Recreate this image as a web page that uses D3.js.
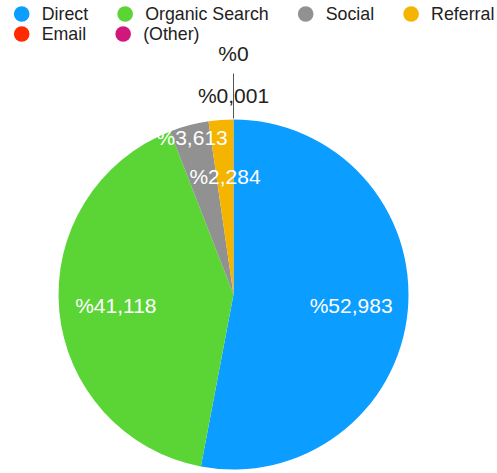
<!DOCTYPE html>
<html>
<head>
<meta charset="utf-8">
<script src="https://cdn.jsdelivr.net/npm/d3@7"></script>
<style>
  html, body { margin: 0; padding: 0; background: #fff; }
  svg { display: block; }
  text { font-family: Arial, "Liberation Sans", Helvetica, sans-serif; }
</style>
</head>
<body>
<svg id="chart" width="497" height="473"></svg>
<script>
// ---- data ----
const categories = ["Direct", "Organic Search", "Social", "Referral", "Email", "(Other)"];
const shares = [52.983, 41.118, 3.613, 2.284, 0.001, 0];
const labels = ["%52,983", "%41,118", "%3,613", "%2,284", "%0,001", "%0"];
const colors = ["#0b9dff", "#5bd535", "#919191", "#f5b400", "#ff2a00", "#d0187c"];

// ---- layout ----
const W = 497, H = 473;
const cx = 233.5, cy = 294.5, R = 175;
const svg = d3.select("#chart");

const color = d3.scaleOrdinal().domain(categories).range(colors);

const data = categories.map((c, i) => ({ cat: c, value: shares[i], label: labels[i] }));

const pie = d3.pie().sort(null).value(d => d.value);
const arcs = pie(data);
const arc = d3.arc().innerRadius(0).outerRadius(R);

const g = svg.append("g").attr("transform", `translate(${cx},${cy})`);

g.selectAll("path.slice")
  .data(arcs)
  .join("path")
  .attr("class", "slice")
  .attr("d", arc)
  .attr("fill", d => color(d.data.cat));

// inside labels
const inside = arcs.filter(d => d.data.value >= 1);
g.selectAll("text.in")
  .data(inside)
  .join("text")
  .attr("class", "in")
  .attr("transform", (d, i) => {
    const k = d.data.cat === "Social" ? 0.93 : 0.675;
    const c = d3.arc().innerRadius(R * k).outerRadius(R * k).centroid(d);
    return `translate(${c[0]},${c[1]})`;
  })
  .attr("text-anchor", "middle")
  .attr("dy", "0.36em")
  .attr("fill", "#fff")
  .attr("font-size", 21)
  .text(d => d.data.label);

// outside labels with leader line
const outside = arcs.filter(d => d.data.value < 1);
const outerOffsets = { "Email": 24.5, "(Other)": 66 };
const lineArcIn = d3.arc().innerRadius(R + 1).outerRadius(R + 1);
const lineArcOut = d3.arc().innerRadius(R + 46).outerRadius(R + 46);
const lastArc = outside[outside.length - 1];
const p0 = lineArcIn.centroid(lastArc), p1 = lineArcOut.centroid(lastArc);
g.append("line")
  .attr("x1", p0[0]).attr("y1", p0[1])
  .attr("x2", p1[0]).attr("y2", p1[1])
  .attr("stroke", "#555").attr("stroke-width", 1);

g.selectAll("text.out")
  .data(outside)
  .join("text")
  .attr("class", "out")
  .attr("transform", d => {
    const rr = R + outerOffsets[d.data.cat];
    const c = d3.arc().innerRadius(rr).outerRadius(rr).centroid(d);
    return `translate(${c[0]},${c[1]})`;
  })
  .attr("text-anchor", "middle")
  .attr("dy", "0.36em")
  .attr("fill", "#222")
  .attr("font-size", 21)
  .text(d => d.data.label);

// legend (flow layout)
const legend = svg.append("g").attr("class", "legend");
const startX = 13.7;
let lx = startX, ly = 14;
const rowH = 20, gapAfter = 29, maxX = W + 12;
categories.forEach((c, i) => {
  const item = legend.append("g");
  const t = item.append("text")
    .attr("x", 28)
    .attr("y", 0)
    .attr("dy", "0.35em")
    .attr("font-size", 17.8)
    .attr("fill", "#222")
    .text(c);
  const tw = t.node().getComputedTextLength();
  const itemW = 28 + tw;
  if (lx + itemW > maxX) { lx = startX; ly += rowH; }
  item.append("circle").attr("cx", 8).attr("cy", 0).attr("r", 7.8).attr("fill", color(c));
  item.attr("transform", `translate(${lx},${ly})`);
  lx += itemW + gapAfter;
});
</script>
</body>
</html>
